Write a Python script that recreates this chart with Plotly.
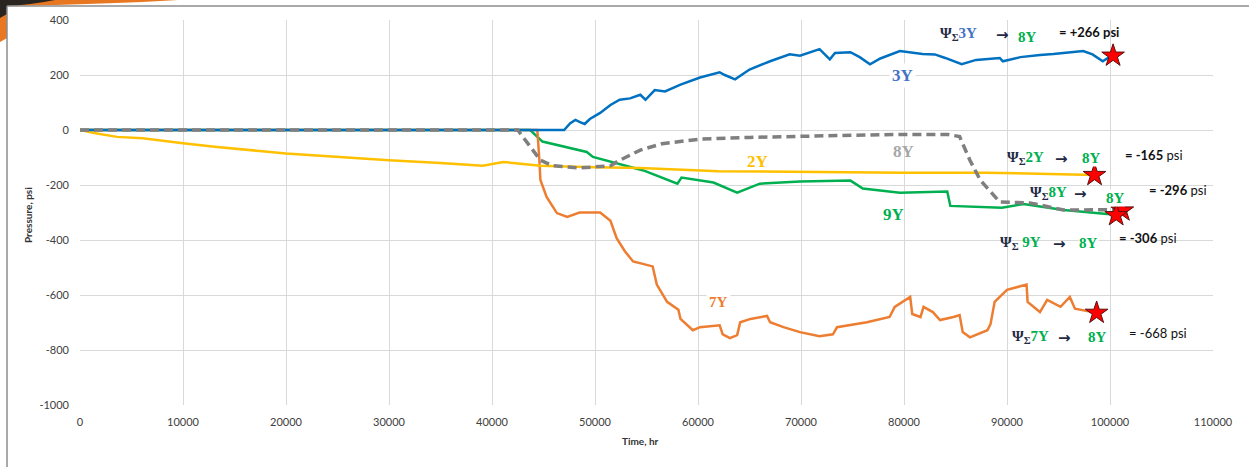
import plotly.graph_objects as go

# ---------------- data ----------------
t_3y = [0, 47000, 47600, 48100, 48600, 49000, 49500, 50500, 51500, 52400, 53400, 54400, 54900, 55800,
        56800, 58300, 60200, 62100, 62600, 63600, 65000, 67000, 68900, 69900, 71800, 72800, 73300,
        74800, 75700, 76700, 77700, 79600, 81800, 83000, 84000, 85600, 87000, 89300, 89600, 91300,
        93200, 94500, 97400, 98300, 99300, 99800, 100300]
p_3y = [0, 0, 25, 37, 28, 22, 40, 62, 91, 110, 115, 128, 110, 145,
        140, 165, 191, 210, 200, 184, 220, 250, 275, 270, 294, 257, 280,
        283, 265, 239, 260, 287, 276, 275, 262, 239, 255, 262, 250, 265,
        273, 276, 287, 275, 250, 262, 270]

t_2y = [0, 1500, 3600, 6100, 10000, 13300, 20000, 25000, 30000, 35000, 39100, 41100, 44700, 50000,
        54400, 62000, 70000, 80000, 88000, 95000, 98500]
p_2y = [0, -12, -25, -30, -48, -62, -85, -98, -110, -120, -130, -116, -130, -135,
        -138, -150, -153, -155, -155, -160, -164]

t_8y = [0, 42500, 44700, 45900, 48500, 51500, 52400, 54400, 56500, 60200, 65000, 69900, 75000,
        79600, 84200, 85400, 86400, 87400, 89300, 92200, 95500, 99600, 101200]
p_8y = [0, 0, -110, -130, -138, -130, -110, -73, -50, -33, -27, -22, -19,
        -16, -16, -24, -110, -182, -262, -265, -291, -290, -293]

t_9y = [0, 43700, 44900, 46300, 49200, 49800, 52100, 54700, 58000, 58400, 61500, 63800, 66000,
        69900, 74800, 76000, 79600, 84200, 84500, 87400, 89500, 91600, 95500, 99700, 100600]
p_9y = [0, 0, -42, -55, -80, -98, -120, -147, -195, -173, -191, -228, -195,
        -187, -184, -213, -228, -224, -276, -280, -283, -269, -291, -305, -310]

t_7y = [0, 44400, 44600, 44700, 45300, 46300, 47300, 48500, 50500, 51500, 52100, 52900, 53700,
        55600, 56000, 57000, 58100, 58300, 59500, 60200, 62100, 62400, 63100, 63800, 64100,
        65100, 66700, 67000, 68300, 69900, 71800, 73100, 73500, 76400, 78600, 79100, 80600,
        80800, 81600, 81900, 82800, 83500, 84800, 85400, 85700, 86400, 88100, 88400, 88800,
        90000, 91900, 92000, 93200, 93900, 95200, 96100, 96600, 98100, 98700]
p_7y = [0, 0, -110, -182, -243, -302, -316, -300, -300, -330, -393, -441, -478,
        -496, -562, -625, -654, -687, -728, -717, -710, -743, -757, -746, -699,
        -687, -676, -699, -717, -735, -750, -743, -717, -699, -680, -643, -607,
        -669, -680, -643, -662, -691, -680, -673, -735, -754, -728, -706, -625,
        -581, -562, -625, -662, -618, -643, -607, -650, -662, -665]

# end-point stars (wells: 3Y, 2Y, 8Y, 9Y, 7Y)
star_t = [100300, 98500, 101200, 100600, 98700]
star_p = [270, -164, -293, -310, -665]

psi_wells = ["3Y", "2Y", "8Y", " 9Y", "7Y"]
psi_values = ["+266", "-165", "-296", "-306", "-668"]

x_ticks = [0, 10000, 20000, 30000, 40000, 50000, 60000, 70000, 80000, 90000, 100000, 110000]
x_tick_labels = [str(v) for v in x_ticks]
y_ticks = [400, 200, 0, -200, -400, -600, -800, -1000]
y_tick_labels = [str(v) for v in y_ticks]

# ---------------- colours ----------------
C_BLUE = "#0070C0"
C_BLUE_TXT = "#4472C4"
C_YEL = "#FFC000"
C_GRAY = "#7F7F7F"
C_GRAY_TXT = "#A6A6A6"
C_GREEN = "#00B050"
C_ORANGE = "#ED7D31"

L, R, T, B = 80, 36, 20, 62
W, H = 1249, 467
XMAX, YMIN, YMAX = 110000, -1000, 400
PW, PH = W - L - R, H - T - B


def tx(px):
    return (px - L) * XMAX / PW


def vy(py):
    return YMAX - (py - T) * (YMAX - YMIN) / PH


def paper_x(px):
    return (px - L) / PW


def paper_y(py):
    return (H - B - py) / PH


fig = go.Figure()
fig.add_trace(go.Scatter(x=t_9y, y=p_9y, mode="lines", line=dict(color=C_GREEN, width=2.5)))
fig.add_trace(go.Scatter(x=t_7y, y=p_7y, mode="lines", line=dict(color=C_ORANGE, width=2.5)))
fig.add_trace(go.Scatter(x=t_2y, y=p_2y, mode="lines", line=dict(color=C_YEL, width=2.5)))
fig.add_trace(go.Scatter(x=t_3y, y=p_3y, mode="lines", line=dict(color=C_BLUE, width=2.5)))
fig.add_trace(go.Scatter(x=t_8y, y=p_8y, mode="lines",
                         line=dict(color=C_GRAY, width=3.5, dash="9px,5px")))
fig.add_trace(go.Scatter(x=star_t, y=star_p, mode="markers",
                         marker=dict(symbol="star", size=17, color="#FF0000",
                                     line=dict(color="#5a1010", width=1))))

ann = []
SERIF = "Liberation Serif"
SANS = "Lato"


def series_label(text, px, py, color, size=17, bg=None):
    ann.append(dict(x=tx(px), y=vy(py), text=f"<b>{text}</b>", showarrow=False,
                    font=dict(family=SERIF, size=size, color=color),
                    bgcolor=bg, borderpad=2, xanchor="center", yanchor="middle"))


series_label("3Y", 902, 75, C_BLUE_TXT, bg="white")
series_label("8Y", 903, 151, C_GRAY_TXT)
series_label("2Y", 757, 161, C_YEL)
series_label("9Y", 893, 214, C_GREEN)
series_label("7Y", 718, 302, C_ORANGE, size=15, bg="white")

# psi formula rows: (psi_x, row_y, arrow_x, target_x, target_y, eq_x, eq_y, boldpsi)
rows = [
    (938, 34, 1002, 1027, 37, 1057, 32, True),
    (1005, 158, 1061, 1091, 158, 1123, 155, False),
    (1028, 193, 1080, 1115, 198, 1147, 190, False),
    (998, 243, 1059, 1088, 243, 1117, 238, False),
    (1010, 337, 1064, 1097, 337, 1127, 333, False),
]
for i, (psx, ry, ax, tgx, tgy, eqx, eqy, bp) in enumerate(rows):
    well = psi_wells[i]
    wc = C_BLUE_TXT if well == "3Y" else C_GREEN
    ann.append(dict(x=tx(psx), y=vy(ry), xanchor="left", yanchor="middle", showarrow=False,
                    text=f"<b>Ψ<sub>Σ</sub><span style='color:{wc}'>{well}</span></b>",
                    font=dict(family=SERIF, size=15, color="#1F2A44")))
    ann.append(dict(x=tx(ax), y=vy(ry + 1), xanchor="center", yanchor="middle", showarrow=False,
                    text="<b>→</b>", font=dict(family="DejaVu Sans", size=15, color="#1F2A44")))
    ann.append(dict(x=tx(tgx), y=vy(tgy), xanchor="center", yanchor="middle", showarrow=False,
                    text="<b>8Y</b>", font=dict(family=SERIF, size=15, color=C_GREEN),
                    bgcolor="white", borderpad=0))
    if bp or i == 4:
        eq = f"= {psi_values[i]} psi"
        eq = f"<b>{eq}</b>" if bp else eq
    else:
        eq = f"<b>= {psi_values[i]}</b> psi"
    ann.append(dict(x=tx(eqx), y=vy(eqy), xanchor="left", yanchor="middle", showarrow=False,
                    text=eq, font=dict(family=SANS, size=13, color="#111111")))

# axis titles
ann.append(dict(x=paper_x(640), y=paper_y(441), xref="paper", yref="paper", showarrow=False,
                xanchor="center", yanchor="middle",
                text="<b>Time, hr</b>", font=dict(family=SANS, size=10, color="#333333")))
ann.append(dict(x=paper_x(28), y=paper_y(215), xref="paper", yref="paper", showarrow=False,
                xanchor="center", yanchor="middle",
                text="<b>Pressure, psi</b>", textangle=-90,
                font=dict(family=SANS, size=10, color="#333333")))

shapes = [
    # top-left slide decoration
    dict(type="path", xref="paper", yref="paper", layer="below",
         path=f"M {paper_x(0)} {paper_y(0)} L {paper_x(178)} {paper_y(0)} "
              f"Q {paper_x(110)} {paper_y(4)} {paper_x(7)} {paper_y(6)} "
              f"L {paper_x(7)} {paper_y(38)} L {paper_x(0)} {paper_y(42)} Z",
         fillcolor="#E87722", line=dict(width=0)),
    dict(type="path", xref="paper", yref="paper", layer="below",
         path=f"M {paper_x(0)} {paper_y(0)} L {paper_x(55)} {paper_y(0)} "
              f"Q {paper_x(30)} {paper_y(5)} {paper_x(7)} {paper_y(6)} "
              f"L {paper_x(7)} {paper_y(14)} L {paper_x(0)} {paper_y(18)} Z",
         fillcolor="#2A2420", line=dict(width=0)),
    # frame
    dict(type="line", xref="paper", yref="paper", x0=paper_x(7), x1=paper_x(1249),
         y0=paper_y(6), y1=paper_y(6), line=dict(color="#8C8C8C", width=1.5)),
    dict(type="line", xref="paper", yref="paper", x0=paper_x(7), x1=paper_x(7),
         y0=paper_y(6), y1=paper_y(467), line=dict(color="#8C8C8C", width=1.5)),
]

fig.update_layout(
    width=W, height=H,
    margin=dict(l=L, r=R, t=T, b=B),
    paper_bgcolor="white", plot_bgcolor="white",
    showlegend=False,
    annotations=ann,
    shapes=shapes,
    xaxis=dict(range=[0, XMAX], tickvals=x_ticks, ticktext=x_tick_labels,
               showgrid=True, gridcolor="#D9D9D9", gridwidth=1, zeroline=False,
               showline=False, ticks="", ticklen=0, ticklabelstandoff=9,
               tickfont=dict(family=SANS, size=11, color="#404040")),
    yaxis=dict(range=[YMIN, YMAX], tickvals=y_ticks, ticktext=y_tick_labels,
               showgrid=True, gridcolor="#D9D9D9", gridwidth=1, zeroline=False,
               showline=False, ticks="", ticklen=0, ticklabelstandoff=10,
               tickfont=dict(family=SANS, size=11, color="#404040")),
)

fig.write_html("out.html", config={"displayModeBar": False},
               post_script="document.body.style.margin='0';document.body.style.overflow='hidden';")
